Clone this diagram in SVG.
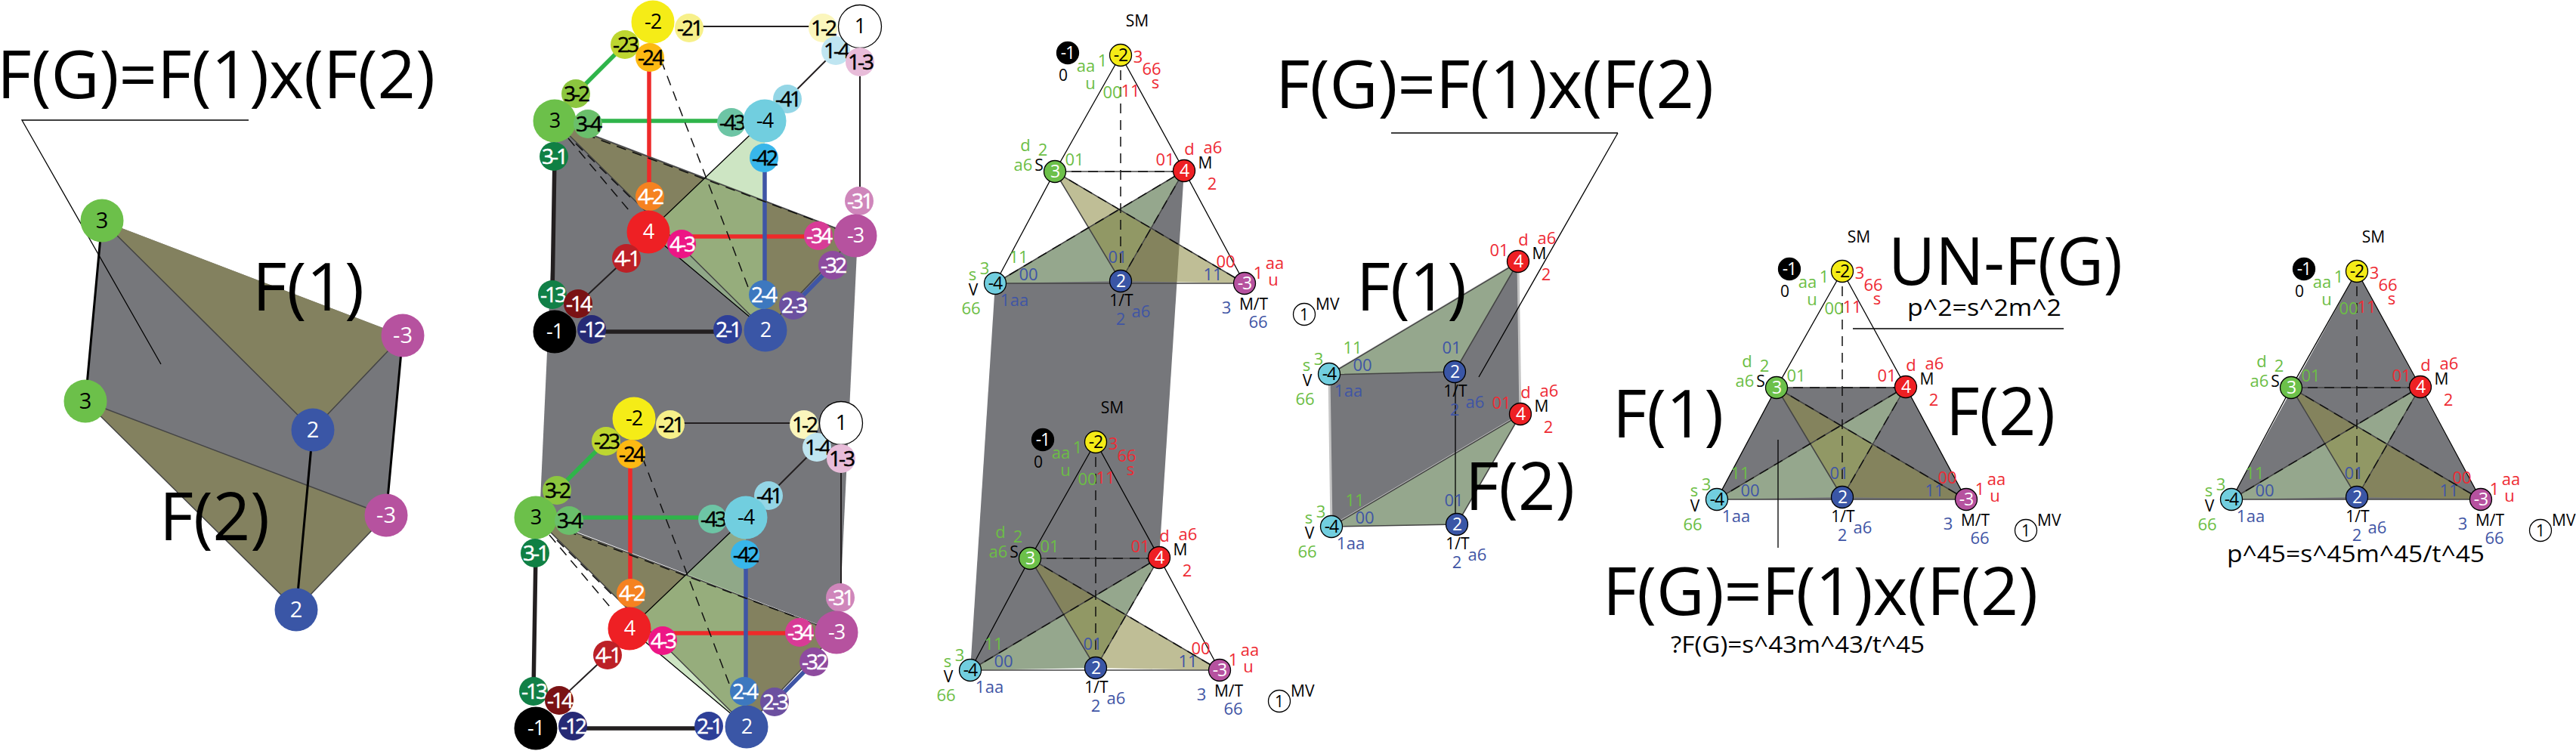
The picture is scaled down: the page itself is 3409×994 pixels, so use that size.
<svg xmlns="http://www.w3.org/2000/svg" xmlns:xlink="http://www.w3.org/1999/xlink" width="3409" height="994" viewBox="0 0 3409 994">
<style>
text{font-family:"Open Sans","Noto Sans",sans-serif;text-anchor:middle}
.big{font-size:88px;text-anchor:start;fill:#000}
.eq{font-size:31px;text-anchor:start;fill:#000}
.g{font-size:22px;fill:#6cbe45}.r{font-size:22px;fill:#ee2a33}.b{font-size:22px;fill:#3f55a5}.k{font-size:21px;fill:#000}
.mv{font-size:21px;fill:#000;text-anchor:start}
.lw{font-size:29px;fill:#fff}.lk{font-size:29px;fill:#000}
.sk{font-size:28px;fill:#000;stroke:#000;stroke-width:.5;letter-spacing:-3px}.sw{font-size:28px;fill:#fff;stroke:#fff;stroke-width:.5;letter-spacing:-3px}
.bk{font-size:27px;fill:#000;letter-spacing:-1px}.bw{font-size:27px;fill:#fff;letter-spacing:-1px}
.tk{font-size:23px;fill:#000;letter-spacing:-1px}.tw{font-size:23px;fill:#fff;letter-spacing:-1px}
.tn{stroke:#000;stroke-width:1.3}
.gray{fill:#76777b}.ol{fill:#83815f}.olA{fill:#8e8c46;fill-opacity:.57}.gr{fill:#95a78d}.grA{fill:#a5d093;fill-opacity:.556}
.thin{stroke:#000;stroke-width:1.3;fill:none}.edge{stroke:#444;stroke-width:1.5;fill:none}
.dash{stroke:#111;stroke-width:1.5;stroke-dasharray:13 9;fill:none}
.w5k{stroke:#231f20;stroke-width:5.5;fill:none}.w5g{stroke:#2fb44a;stroke-width:5.5;fill:none}.w5r{stroke:#ee2a2a;stroke-width:5.5;fill:none}.w5b{stroke:#3f55a5;stroke-width:5.5;fill:none}
.w2{stroke:#231f20;stroke-width:2;fill:none}
.m2{fill:#f5ec17}.m21{fill:#f7f08a}.m23{fill:#bdd630}.m24{fill:#fdb913}.p32{fill:#8cc63f}.p3{fill:#6cc04a}.p34{fill:#6abf6b}.p31{fill:#0f8044}
.m43{fill:#6dc5a5}.m4{fill:#71cedf}.m41{fill:#94d6e6}.m42{fill:#38b6ea}.p1{fill:#fff;stroke:#000;stroke-width:1.3}.p12{fill:#fbf6bd}.p14{fill:#bfe5f1}.p13{fill:#e8bcd9}
.m31{fill:#cf86bb}.m3{fill:#b6529f}.m34{fill:#d83b96}.m32{fill:#8e4b9f}.p23{fill:#6c50a0}.p24{fill:#3d78bf}.p2{fill:#3a56a6}.p21{fill:#2e3f98}
.m12{fill:#262a75}.m1{fill:#000}.m14{fill:#7a1214}.m13{fill:#118047}.p4{fill:#ee2024}.p42{fill:#f58220}.p43{fill:#ed1685}.p41{fill:#bc2026}
</style>
<defs>
<g id="triLines">
<path class="edge" d="M-87 154H84M-87 154L0 299M0 299L84 153M-87 154L164 302M-166 302L84 153M-166 302H164" stroke="#666"/>
<path class="thin" d="M0 0L-87 154L-166 302M0 0L84 153L164 302"/>
<path class="dash" d="M0 20V299M-87 154H84M-87 154L164 302M-166 302L84 153M0 299L84 153"/>
</g>
<g id="cubeLines">
<path class="w2" d="M912 35H1089M1106 67L1042 131M829 342L765 402"/>
<path class="w2" d="M1138 82V266" stroke="#444"/>
<path class="w5g" d="M827 59L762 124M778 160H968"/>
<path class="w5r" d="M859 76V260M902 313H1083"/>
<path class="w5b" d="M1012 209V390M1050 404L1102 351"/>
<path class="w5k" d="M734 207L731 390M783 439H963"/>
<path class="edge" d="M734 160L1132 312M734 160L1013 437M1132 312L1013 437"/>
<path class="thin" d="M1012 160L858 307M858 307L1013 437"/>
<path class="dash" d="M875 80L990 380M775 178L1132 312M752 183L832 278M762 190L840 267"/>
</g>
</defs>

<g id="left-figure">
<polygon class="gray" points="135,292 533,444 511,682 113,531"/>
<polygon class="ol" points="135,292 533,444 414,569"/>
<polygon class="ol" points="113,531 511,682 392,807"/>
<g id="left-connectors">
<path class="edge" d="M135 292L414 569L533 444M113 531L511 682M113 531L392 807L511 682"/>
<path stroke="#000" stroke-width="3" fill="none" d="M135 292L113 531M533 444L511 682M414 569L392 807"/>
<path class="thin" d="M329 159H29L213 482"/>
</g>
<g id="l-3a" transform="translate(135,292)"><circle r="28.5" class="p3"/><text class="lk" y="10">3</text></g>
<g id="l-3b" transform="translate(113,531)"><circle r="28.5" class="p3"/><text class="lk" y="10">3</text></g>
<g id="l-m3a" transform="translate(533,444)"><circle r="28.5" class="m3"/><text class="lw" y="10">-3</text></g>
<g id="l-m3b" transform="translate(511,682)"><circle r="28.5" class="m3"/><text class="lw" y="10">-3</text></g>
<g id="l-2a" transform="translate(414,569)"><circle r="28.5" class="p2"/><text class="lw" y="10">2</text></g>
<g id="l-2b" transform="translate(392,807)"><circle r="28.5" class="p2"/><text class="lw" y="10">2</text></g>
<text class="big" x="-4" y="130" textLength="580" lengthAdjust="spacingAndGlyphs">F(G)=F(1)x(F(2)</text>
<text class="big" x="334" y="411" textLength="148" lengthAdjust="spacingAndGlyphs">F(1)</text>
<text class="big" x="211" y="715" textLength="146" lengthAdjust="spacingAndGlyphs">F(2)</text>
</g>

<g id="cube-shading">
<polygon class="gray" points="738,160 1135,312 1110,837 714,685"/>
<polygon class="ol" points="734,160 1132,312 1013,437"/>
<polygon class="grA" points="1012,160 858,307 1013,437"/>
<polygon class="ol" points="709,685 1107,837 988,962"/>
<polygon class="grA" points="987,685 833,832 988,962"/>
</g>
<g id="cube-connectors">
<use href="#cubeLines"/>
<use href="#cubeLines" transform="translate(-25,525)"/>
</g>
<g id="cube-top">
<g id="c1-m21" transform="translate(912,37)"><circle r="19" class="m21"/><text class="sk" y="10">-21</text></g>
<g id="c1-m23" transform="translate(827,59)"><circle r="19" class="m23"/><text class="sk" y="10">-23</text></g>
<g id="c1-m2" transform="translate(864,29)"><circle r="28.5" class="m2"/><text class="bk" y="9">-2</text></g>
<g id="c1-m24" transform="translate(860,76)"><circle r="19" class="m24"/><text class="sk" y="10">-24</text></g>
<g id="c1-p32" transform="translate(762,124)"><circle r="19" class="p32"/><text class="sk" y="10">3-2</text></g>
<g id="c1-p3" transform="translate(734,160)"><circle r="28.5" class="p3"/><text class="bk" y="9">3</text></g>
<g id="c1-p34" transform="translate(778,164)"><circle r="19" class="p34"/><text class="sk" y="10">3-4</text></g>
<g id="c1-p31" transform="translate(733,207)"><circle r="19" class="p31"/><text class="sw" y="10">3-1</text></g>
<g id="c1-m43" transform="translate(968,162)"><circle r="19" class="m43"/><text class="sk" y="10">-43</text></g>
<g id="c1-m41" transform="translate(1042,131)"><circle r="19" class="m41"/><text class="sk" y="10">-41</text></g>
<g id="c1-m4" transform="translate(1012,160)"><circle r="28.5" class="m4"/><text class="bk" y="9">-4</text></g>
<g id="c1-m42" transform="translate(1011,209)"><circle r="19" class="m42"/><text class="sk" y="10">-42</text></g>
<g id="c1-p12" transform="translate(1089,37)"><circle r="19" class="p12"/><text class="sk" y="10">1-2</text></g>
<g id="c1-p14" transform="translate(1106,67)"><circle r="19" class="p14"/><text class="sk" y="10">1-4</text></g>
<g id="c1-p1" transform="translate(1138,35)"><circle r="28.5" class="p1"/><text class="bk" y="9">1</text></g>
<g id="c1-p13" transform="translate(1138,82)"><circle r="19" class="p13"/><text class="sk" y="10">1-3</text></g>
<g id="c1-m31" transform="translate(1137,266)"><circle r="19" class="m31"/><text class="sw" y="10">-31</text></g>
<g id="c1-m34" transform="translate(1083,312)"><circle r="19" class="m34"/><text class="sw" y="10">-34</text></g>
<g id="c1-m3" transform="translate(1132,312)"><circle r="28.5" class="m3"/><text class="bw" y="9">-3</text></g>
<g id="c1-m32" transform="translate(1102,351)"><circle r="19" class="m32"/><text class="sw" y="10">-32</text></g>
<g id="c1-p21" transform="translate(963,436)"><circle r="19" class="p21"/><text class="sw" y="10">2-1</text></g>
<g id="c1-p2" transform="translate(1013,437)"><circle r="28.5" class="p2"/><text class="bw" y="9">2</text></g>
<g id="c1-p24" transform="translate(1010,390)"><circle r="19" class="p24"/><text class="sw" y="10">2-4</text></g>
<g id="c1-p23" transform="translate(1050,404)"><circle r="19" class="p23"/><text class="sw" y="10">2-3</text></g>
<g id="c1-m12" transform="translate(783,436)"><circle r="19" class="m12"/><text class="sw" y="10">-12</text></g>
<g id="c1-m13" transform="translate(731,390)"><circle r="19" class="m13"/><text class="sw" y="10">-13</text></g>
<g id="c1-m1" transform="translate(734,439)"><circle r="28.5" class="m1"/><text class="bw" y="9">-1</text></g>
<g id="c1-m14" transform="translate(765,402)"><circle r="19" class="m14"/><text class="sw" y="10">-14</text></g>
<g id="c1-p42" transform="translate(860,260)"><circle r="19" class="p42"/><text class="sw" y="10">4-2</text></g>
<g id="c1-p4" transform="translate(858,307)"><circle r="28.5" class="p4"/><text class="bw" y="9">4</text></g>
<g id="c1-p41" transform="translate(829,342)"><circle r="19" class="p41"/><text class="sw" y="10">4-1</text></g>
<g id="c1-p43" transform="translate(902,323)"><circle r="19" class="p43"/><text class="sw" y="10">4-3</text></g>
</g>
<g id="cube-bottom" transform="translate(-25,525)">
<g id="c2-m21" transform="translate(912,37)"><circle r="19" class="m21"/><text class="sk" y="10">-21</text></g>
<g id="c2-m23" transform="translate(827,59)"><circle r="19" class="m23"/><text class="sk" y="10">-23</text></g>
<g id="c2-m2" transform="translate(864,29)"><circle r="28.5" class="m2"/><text class="bk" y="9">-2</text></g>
<g id="c2-m24" transform="translate(860,76)"><circle r="19" class="m24"/><text class="sk" y="10">-24</text></g>
<g id="c2-p32" transform="translate(762,124)"><circle r="19" class="p32"/><text class="sk" y="10">3-2</text></g>
<g id="c2-p3" transform="translate(734,160)"><circle r="28.5" class="p3"/><text class="bk" y="9">3</text></g>
<g id="c2-p34" transform="translate(778,164)"><circle r="19" class="p34"/><text class="sk" y="10">3-4</text></g>
<g id="c2-p31" transform="translate(733,207)"><circle r="19" class="p31"/><text class="sw" y="10">3-1</text></g>
<g id="c2-m43" transform="translate(968,162)"><circle r="19" class="m43"/><text class="sk" y="10">-43</text></g>
<g id="c2-m41" transform="translate(1042,131)"><circle r="19" class="m41"/><text class="sk" y="10">-41</text></g>
<g id="c2-m4" transform="translate(1012,160)"><circle r="28.5" class="m4"/><text class="bk" y="9">-4</text></g>
<g id="c2-m42" transform="translate(1011,209)"><circle r="19" class="m42"/><text class="sk" y="10">-42</text></g>
<g id="c2-p12" transform="translate(1089,37)"><circle r="19" class="p12"/><text class="sk" y="10">1-2</text></g>
<g id="c2-p14" transform="translate(1106,67)"><circle r="19" class="p14"/><text class="sk" y="10">1-4</text></g>
<g id="c2-p1" transform="translate(1138,35)"><circle r="28.5" class="p1"/><text class="bk" y="9">1</text></g>
<g id="c2-p13" transform="translate(1138,82)"><circle r="19" class="p13"/><text class="sk" y="10">1-3</text></g>
<g id="c2-m31" transform="translate(1137,266)"><circle r="19" class="m31"/><text class="sw" y="10">-31</text></g>
<g id="c2-m34" transform="translate(1083,312)"><circle r="19" class="m34"/><text class="sw" y="10">-34</text></g>
<g id="c2-m3" transform="translate(1132,312)"><circle r="28.5" class="m3"/><text class="bw" y="9">-3</text></g>
<g id="c2-m32" transform="translate(1102,351)"><circle r="19" class="m32"/><text class="sw" y="10">-32</text></g>
<g id="c2-p21" transform="translate(963,436)"><circle r="19" class="p21"/><text class="sw" y="10">2-1</text></g>
<g id="c2-p2" transform="translate(1013,437)"><circle r="28.5" class="p2"/><text class="bw" y="9">2</text></g>
<g id="c2-p24" transform="translate(1010,390)"><circle r="19" class="p24"/><text class="sw" y="10">2-4</text></g>
<g id="c2-p23" transform="translate(1050,404)"><circle r="19" class="p23"/><text class="sw" y="10">2-3</text></g>
<g id="c2-m12" transform="translate(783,436)"><circle r="19" class="m12"/><text class="sw" y="10">-12</text></g>
<g id="c2-m13" transform="translate(731,390)"><circle r="19" class="m13"/><text class="sw" y="10">-13</text></g>
<g id="c2-m1" transform="translate(734,439)"><circle r="28.5" class="m1"/><text class="bw" y="9">-1</text></g>
<g id="c2-m14" transform="translate(765,402)"><circle r="19" class="m14"/><text class="sw" y="10">-14</text></g>
<g id="c2-p42" transform="translate(860,260)"><circle r="19" class="p42"/><text class="sw" y="10">4-2</text></g>
<g id="c2-p4" transform="translate(858,307)"><circle r="28.5" class="p4"/><text class="bw" y="9">4</text></g>
<g id="c2-p41" transform="translate(829,342)"><circle r="19" class="p41"/><text class="sw" y="10">4-1</text></g>
<g id="c2-p43" transform="translate(902,323)"><circle r="19" class="p43"/><text class="sw" y="10">4-3</text></g>
</g>

<polygon id="tri-band" class="gray" points="1317,375 1567,226 1534,738 1284,887"/>

<g id="t1" transform="translate(1483,73)">
<polygon class="gr" points="-166,302 84,153 0,299"/><polygon class="olA" points="-87,154 164,302 0,299"/>
<g id="t1-conn"><use href="#triLines"/></g>
<g id="t1-m1" transform="translate(-70,-3)"><circle r="14.5" class="m1 tn"/><text class="tw" y="8">-1</text></g>
<g id="t1-m2"><circle r="14.5" class="m2 tn"/><text class="tk" y="8">-2</text></g>
<g id="t1-p3" transform="translate(-87,154)"><circle r="14.5" class="p3 tn"/><text class="tw" y="8">3</text></g>
<g id="t1-p4" transform="translate(84,153)"><circle r="14.5" class="p4 tn"/><text class="tw" y="8">4</text></g>
<g id="t1-m4" transform="translate(-166,302)"><circle r="14.5" class="m4 tn"/><text class="tk" y="8">-4</text></g>
<g id="t1-p2" transform="translate(0,299)"><circle r="14.5" class="p2 tn"/><text class="tw" y="8">2</text></g>
<g id="t1-m3" transform="translate(164,302)"><circle r="14.5" class="m3 tn"/><text class="tw" y="8">-3</text></g>
<text class="k" x="22" y="-38">SM</text><text class="k" x="-76" y="34">0</text>
<text class="g" x="-24" y="15">1</text><text class="g" x="-46" y="22">aa</text><text class="g" x="-40" y="45">u</text><text class="g" x="-11" y="57">00</text>
<text class="r" x="13" y="55">11</text><text class="r" x="23" y="10">3</text><text class="r" x="41" y="26">66</text><text class="r" x="46" y="44">s</text>
<text class="g" x="-126" y="127">d</text><text class="g" x="-103" y="133">2</text><text class="g" x="-129" y="153">a6</text><text class="k" x="-108" y="153">S</text><text class="g" x="-61" y="146">01</text>
<text class="r" x="59" y="146">01</text><text class="r" x="91" y="132">d</text><text class="r" x="122" y="130">a6</text><text class="k" x="112" y="150">M</text><text class="r" x="121" y="178">2</text>
<text class="g" x="-135" y="275">11</text><text class="g" x="-180" y="290">3</text><text class="g" x="-196" y="298">s</text><text class="k" x="-195" y="318">V</text><text class="g" x="-198" y="343">66</text>
<text class="b" x="-122" y="298">00</text><text class="b" x="-153" y="332">1</text><text class="b" x="-134" y="332">aa</text><text class="b" x="-4" y="275">01</text><text class="k" x="1" y="332">1/T</text><text class="b" x="27" y="347">a6</text><text class="b" x="0" y="357">2</text>
<text class="b" x="122" y="298">11</text><text class="r" x="139" y="281">00</text><text class="r" x="182" y="296">1</text><text class="r" x="204" y="283">aa</text><text class="r" x="202" y="305">u</text><text class="b" x="140" y="342">3</text><text class="k" x="176" y="337">M/T</text><text class="b" x="182" y="361">66</text>
<g id="t1-p1" transform="translate(243,343)"><circle r="14.5" class="p1"/><text class="k" y="8">1</text></g><text class="mv" x="258" y="337">MV</text>
</g>

<g id="t2" transform="translate(1450,585)">
<polygon class="gr" points="-166,302 84,153 0,299"/><polygon class="olA" points="-87,154 164,302 0,299"/>
<g id="t2-conn"><use href="#triLines"/></g>
<g id="t2-m1" transform="translate(-70,-3)"><circle r="14.5" class="m1 tn"/><text class="tw" y="8">-1</text></g>
<g id="t2-m2"><circle r="14.5" class="m2 tn"/><text class="tk" y="8">-2</text></g>
<g id="t2-p3" transform="translate(-87,154)"><circle r="14.5" class="p3 tn"/><text class="tw" y="8">3</text></g>
<g id="t2-p4" transform="translate(84,153)"><circle r="14.5" class="p4 tn"/><text class="tw" y="8">4</text></g>
<g id="t2-m4" transform="translate(-166,302)"><circle r="14.5" class="m4 tn"/><text class="tk" y="8">-4</text></g>
<g id="t2-p2" transform="translate(0,299)"><circle r="14.5" class="p2 tn"/><text class="tw" y="8">2</text></g>
<g id="t2-m3" transform="translate(164,302)"><circle r="14.5" class="m3 tn"/><text class="tw" y="8">-3</text></g>
<text class="k" x="22" y="-38">SM</text><text class="k" x="-76" y="34">0</text>
<text class="g" x="-24" y="15">1</text><text class="g" x="-46" y="22">aa</text><text class="g" x="-40" y="45">u</text><text class="g" x="-11" y="57">00</text>
<text class="r" x="13" y="55">11</text><text class="r" x="23" y="10">3</text><text class="r" x="41" y="26">66</text><text class="r" x="46" y="44">s</text>
<text class="g" x="-126" y="127">d</text><text class="g" x="-103" y="133">2</text><text class="g" x="-129" y="153">a6</text><text class="k" x="-108" y="153">S</text><text class="g" x="-61" y="146">01</text>
<text class="r" x="59" y="146">01</text><text class="r" x="91" y="132">d</text><text class="r" x="122" y="130">a6</text><text class="k" x="112" y="150">M</text><text class="r" x="121" y="178">2</text>
<text class="g" x="-135" y="275">11</text><text class="g" x="-180" y="290">3</text><text class="g" x="-196" y="298">s</text><text class="k" x="-195" y="318">V</text><text class="g" x="-198" y="343">66</text>
<text class="b" x="-122" y="298">00</text><text class="b" x="-153" y="332">1</text><text class="b" x="-134" y="332">aa</text><text class="b" x="-4" y="275">01</text><text class="k" x="1" y="332">1/T</text><text class="b" x="27" y="347">a6</text><text class="b" x="0" y="357">2</text>
<text class="b" x="122" y="298">11</text><text class="r" x="139" y="281">00</text><text class="r" x="182" y="296">1</text><text class="r" x="204" y="283">aa</text><text class="r" x="202" y="305">u</text><text class="b" x="140" y="342">3</text><text class="k" x="176" y="337">M/T</text><text class="b" x="182" y="361">66</text>
<g id="t2-p1" transform="translate(243,343)"><circle r="14.5" class="p1"/><text class="k" y="8">1</text></g><text class="mv" x="258" y="337">MV</text>
</g>

<g id="middle-figure">
<polygon class="gray" points="1759,496 2009,347 2012,549 1762,697" stroke="#c4c4c4" stroke-width="3"/>
<polygon class="gr" points="1759,496 2009,347 1925,492"/>
<polygon class="gr" points="1762,697 2012,549 1928,694"/>
<g id="mid-conn">
<path class="edge" d="M1759 496L2009 347L1925 492ZM1762 697L2012 549L1928 694Z"/>
<path class="thin" d="M1926 492V694M2141 176H1841M2141 176L1957 499"/>
</g>
<g id="m1" transform="translate(1925,193)">
<g id="m1-p4" transform="translate(84,153)"><circle r="14.5" class="p4 tn"/><text class="tw" y="8">4</text></g>
<g id="m1-m4" transform="translate(-166,302)"><circle r="14.5" class="m4 tn"/><text class="tk" y="8">-4</text></g>
<g id="m1-p2" transform="translate(0,299)"><circle r="14.5" class="p2 tn"/><text class="tw" y="8">2</text></g>
<text class="r" x="59" y="146">01</text><text class="r" x="91" y="132">d</text><text class="r" x="122" y="130">a6</text><text class="k" x="112" y="150">M</text><text class="r" x="121" y="178">2</text>
<text class="g" x="-135" y="275">11</text><text class="g" x="-180" y="290">3</text><text class="g" x="-196" y="298">s</text><text class="k" x="-195" y="318">V</text><text class="g" x="-198" y="343">66</text>
<text class="b" x="-122" y="298">00</text><text class="b" x="-153" y="332">1</text><text class="b" x="-134" y="332">aa</text><text class="b" x="-4" y="275">01</text><text class="k" x="1" y="332">1/T</text><text class="b" x="27" y="347">a6</text><text class="b" x="0" y="357">2</text>
</g>
<g id="m2" transform="translate(1928,395)">
<g id="m2-p4" transform="translate(84,153)"><circle r="14.5" class="p4 tn"/><text class="tw" y="8">4</text></g>
<g id="m2-m4" transform="translate(-166,302)"><circle r="14.5" class="m4 tn"/><text class="tk" y="8">-4</text></g>
<g id="m2-p2" transform="translate(0,299)"><circle r="14.5" class="p2 tn"/><text class="tw" y="8">2</text></g>
<text class="r" x="59" y="146">01</text><text class="r" x="91" y="132">d</text><text class="r" x="122" y="130">a6</text><text class="k" x="112" y="150">M</text><text class="r" x="121" y="178">2</text>
<text class="g" x="-135" y="275">11</text><text class="g" x="-180" y="290">3</text><text class="g" x="-196" y="298">s</text><text class="k" x="-195" y="318">V</text><text class="g" x="-198" y="343">66</text>
<text class="b" x="-122" y="298">00</text><text class="b" x="-153" y="332">1</text><text class="b" x="-134" y="332">aa</text><text class="b" x="-4" y="275">01</text><text class="k" x="1" y="332">1/T</text><text class="b" x="27" y="347">a6</text><text class="b" x="0" y="357">2</text>
</g>
<text class="big" x="1688" y="143" textLength="580" lengthAdjust="spacingAndGlyphs">F(G)=F(1)x(F(2)</text>
<text class="big" x="1795" y="411" textLength="146" lengthAdjust="spacingAndGlyphs">F(1)</text>
<text class="big" x="1939" y="675" textLength="145" lengthAdjust="spacingAndGlyphs">F(2)</text>
</g>

<g id="t3" transform="translate(2438,359)">
<polygon class="gray" points="-87,154 84,153 164,302 -166,302"/>
<polygon class="gr" points="-166,302 84,153 0,299"/><polygon class="olA" points="-87,154 164,302 0,299"/>
<g id="t3-conn"><use href="#triLines"/></g>
<g id="t3-m1" transform="translate(-70,-3)"><circle r="14.5" class="m1 tn"/><text class="tw" y="8">-1</text></g>
<g id="t3-m2"><circle r="14.5" class="m2 tn"/><text class="tk" y="8">-2</text></g>
<g id="t3-p3" transform="translate(-87,154)"><circle r="14.5" class="p3 tn"/><text class="tw" y="8">3</text></g>
<g id="t3-p4" transform="translate(84,153)"><circle r="14.5" class="p4 tn"/><text class="tw" y="8">4</text></g>
<g id="t3-m4" transform="translate(-166,302)"><circle r="14.5" class="m4 tn"/><text class="tk" y="8">-4</text></g>
<g id="t3-p2" transform="translate(0,299)"><circle r="14.5" class="p2 tn"/><text class="tw" y="8">2</text></g>
<g id="t3-m3" transform="translate(164,302)"><circle r="14.5" class="m3 tn"/><text class="tw" y="8">-3</text></g>
<text class="k" x="22" y="-38">SM</text><text class="k" x="-76" y="34">0</text>
<text class="g" x="-24" y="15">1</text><text class="g" x="-46" y="22">aa</text><text class="g" x="-40" y="45">u</text><text class="g" x="-11" y="57">00</text>
<text class="r" x="13" y="55">11</text><text class="r" x="23" y="10">3</text><text class="r" x="41" y="26">66</text><text class="r" x="46" y="44">s</text>
<text class="g" x="-126" y="127">d</text><text class="g" x="-103" y="133">2</text><text class="g" x="-129" y="153">a6</text><text class="k" x="-108" y="153">S</text><text class="g" x="-61" y="146">01</text>
<text class="r" x="59" y="146">01</text><text class="r" x="91" y="132">d</text><text class="r" x="122" y="130">a6</text><text class="k" x="112" y="150">M</text><text class="r" x="121" y="178">2</text>
<text class="g" x="-135" y="275">11</text><text class="g" x="-180" y="290">3</text><text class="g" x="-196" y="298">s</text><text class="k" x="-195" y="318">V</text><text class="g" x="-198" y="343">66</text>
<text class="b" x="-122" y="298">00</text><text class="b" x="-153" y="332">1</text><text class="b" x="-134" y="332">aa</text><text class="b" x="-4" y="275">01</text><text class="k" x="1" y="332">1/T</text><text class="b" x="27" y="347">a6</text><text class="b" x="0" y="357">2</text>
<text class="b" x="122" y="298">11</text><text class="r" x="139" y="281">00</text><text class="r" x="182" y="296">1</text><text class="r" x="204" y="283">aa</text><text class="r" x="202" y="305">u</text><text class="b" x="140" y="342">3</text><text class="k" x="176" y="337">M/T</text><text class="b" x="182" y="361">66</text>
<g id="t3-p1" transform="translate(243,343)"><circle r="14.5" class="p1"/><text class="k" y="8">1</text></g><text class="mv" x="258" y="337">MV</text>
</g>
<g id="t3-notes">
<path class="thin" d="M2452 435H2731M2353 582V725"/>
<text class="big" x="2499" y="377" textLength="310" lengthAdjust="spacingAndGlyphs">UN-F(G)</text>
<text class="eq" x="2524" y="418" textLength="204" lengthAdjust="spacingAndGlyphs">p^2=s^2m^2</text>
<text class="big" x="2134" y="579" textLength="147" lengthAdjust="spacingAndGlyphs">F(1)</text>
<text class="big" x="2575" y="576" textLength="145" lengthAdjust="spacingAndGlyphs">F(2)</text>
<text class="big" x="2121" y="814" textLength="576" lengthAdjust="spacingAndGlyphs">F(G)=F(1)x(F(2)</text>
<text class="eq" x="2211" y="864" textLength="336" lengthAdjust="spacingAndGlyphs">?F(G)=s^43m^43/t^45</text>
</g>

<g id="t4" transform="translate(3119,359)">
<polygon class="gray" points="0,0 164,302 -166,302"/>
<polygon class="gr" points="-166,302 84,153 0,299"/><polygon class="olA" points="-87,154 164,302 0,299"/>
<g id="t4-conn"><use href="#triLines"/></g>
<g id="t4-m1" transform="translate(-70,-3)"><circle r="14.5" class="m1 tn"/><text class="tw" y="8">-1</text></g>
<g id="t4-m2"><circle r="14.5" class="m2 tn"/><text class="tk" y="8">-2</text></g>
<g id="t4-p3" transform="translate(-87,154)"><circle r="14.5" class="p3 tn"/><text class="tw" y="8">3</text></g>
<g id="t4-p4" transform="translate(84,153)"><circle r="14.5" class="p4 tn"/><text class="tw" y="8">4</text></g>
<g id="t4-m4" transform="translate(-166,302)"><circle r="14.5" class="m4 tn"/><text class="tk" y="8">-4</text></g>
<g id="t4-p2" transform="translate(0,299)"><circle r="14.5" class="p2 tn"/><text class="tw" y="8">2</text></g>
<g id="t4-m3" transform="translate(164,302)"><circle r="14.5" class="m3 tn"/><text class="tw" y="8">-3</text></g>
<text class="k" x="22" y="-38">SM</text><text class="k" x="-76" y="34">0</text>
<text class="g" x="-24" y="15">1</text><text class="g" x="-46" y="22">aa</text><text class="g" x="-40" y="45">u</text><text class="g" x="-11" y="57">00</text>
<text class="r" x="13" y="55">11</text><text class="r" x="23" y="10">3</text><text class="r" x="41" y="26">66</text><text class="r" x="46" y="44">s</text>
<text class="g" x="-126" y="127">d</text><text class="g" x="-103" y="133">2</text><text class="g" x="-129" y="153">a6</text><text class="k" x="-108" y="153">S</text><text class="g" x="-61" y="146">01</text>
<text class="r" x="59" y="146">01</text><text class="r" x="91" y="132">d</text><text class="r" x="122" y="130">a6</text><text class="k" x="112" y="150">M</text><text class="r" x="121" y="178">2</text>
<text class="g" x="-135" y="275">11</text><text class="g" x="-180" y="290">3</text><text class="g" x="-196" y="298">s</text><text class="k" x="-195" y="318">V</text><text class="g" x="-198" y="343">66</text>
<text class="b" x="-122" y="298">00</text><text class="b" x="-153" y="332">1</text><text class="b" x="-134" y="332">aa</text><text class="b" x="-4" y="275">01</text><text class="k" x="1" y="332">1/T</text><text class="b" x="27" y="347">a6</text><text class="b" x="0" y="357">2</text>
<text class="b" x="122" y="298">11</text><text class="r" x="139" y="281">00</text><text class="r" x="182" y="296">1</text><text class="r" x="204" y="283">aa</text><text class="r" x="202" y="305">u</text><text class="b" x="140" y="342">3</text><text class="k" x="176" y="337">M/T</text><text class="b" x="182" y="361">66</text>
<g id="t4-p1" transform="translate(243,343)"><circle r="14.5" class="p1"/><text class="k" y="8">1</text></g><text class="mv" x="258" y="337">MV</text>
</g>
<text class="eq" x="2947" y="744" textLength="341" lengthAdjust="spacingAndGlyphs">p^45=s^45m^45/t^45</text>
</svg>
